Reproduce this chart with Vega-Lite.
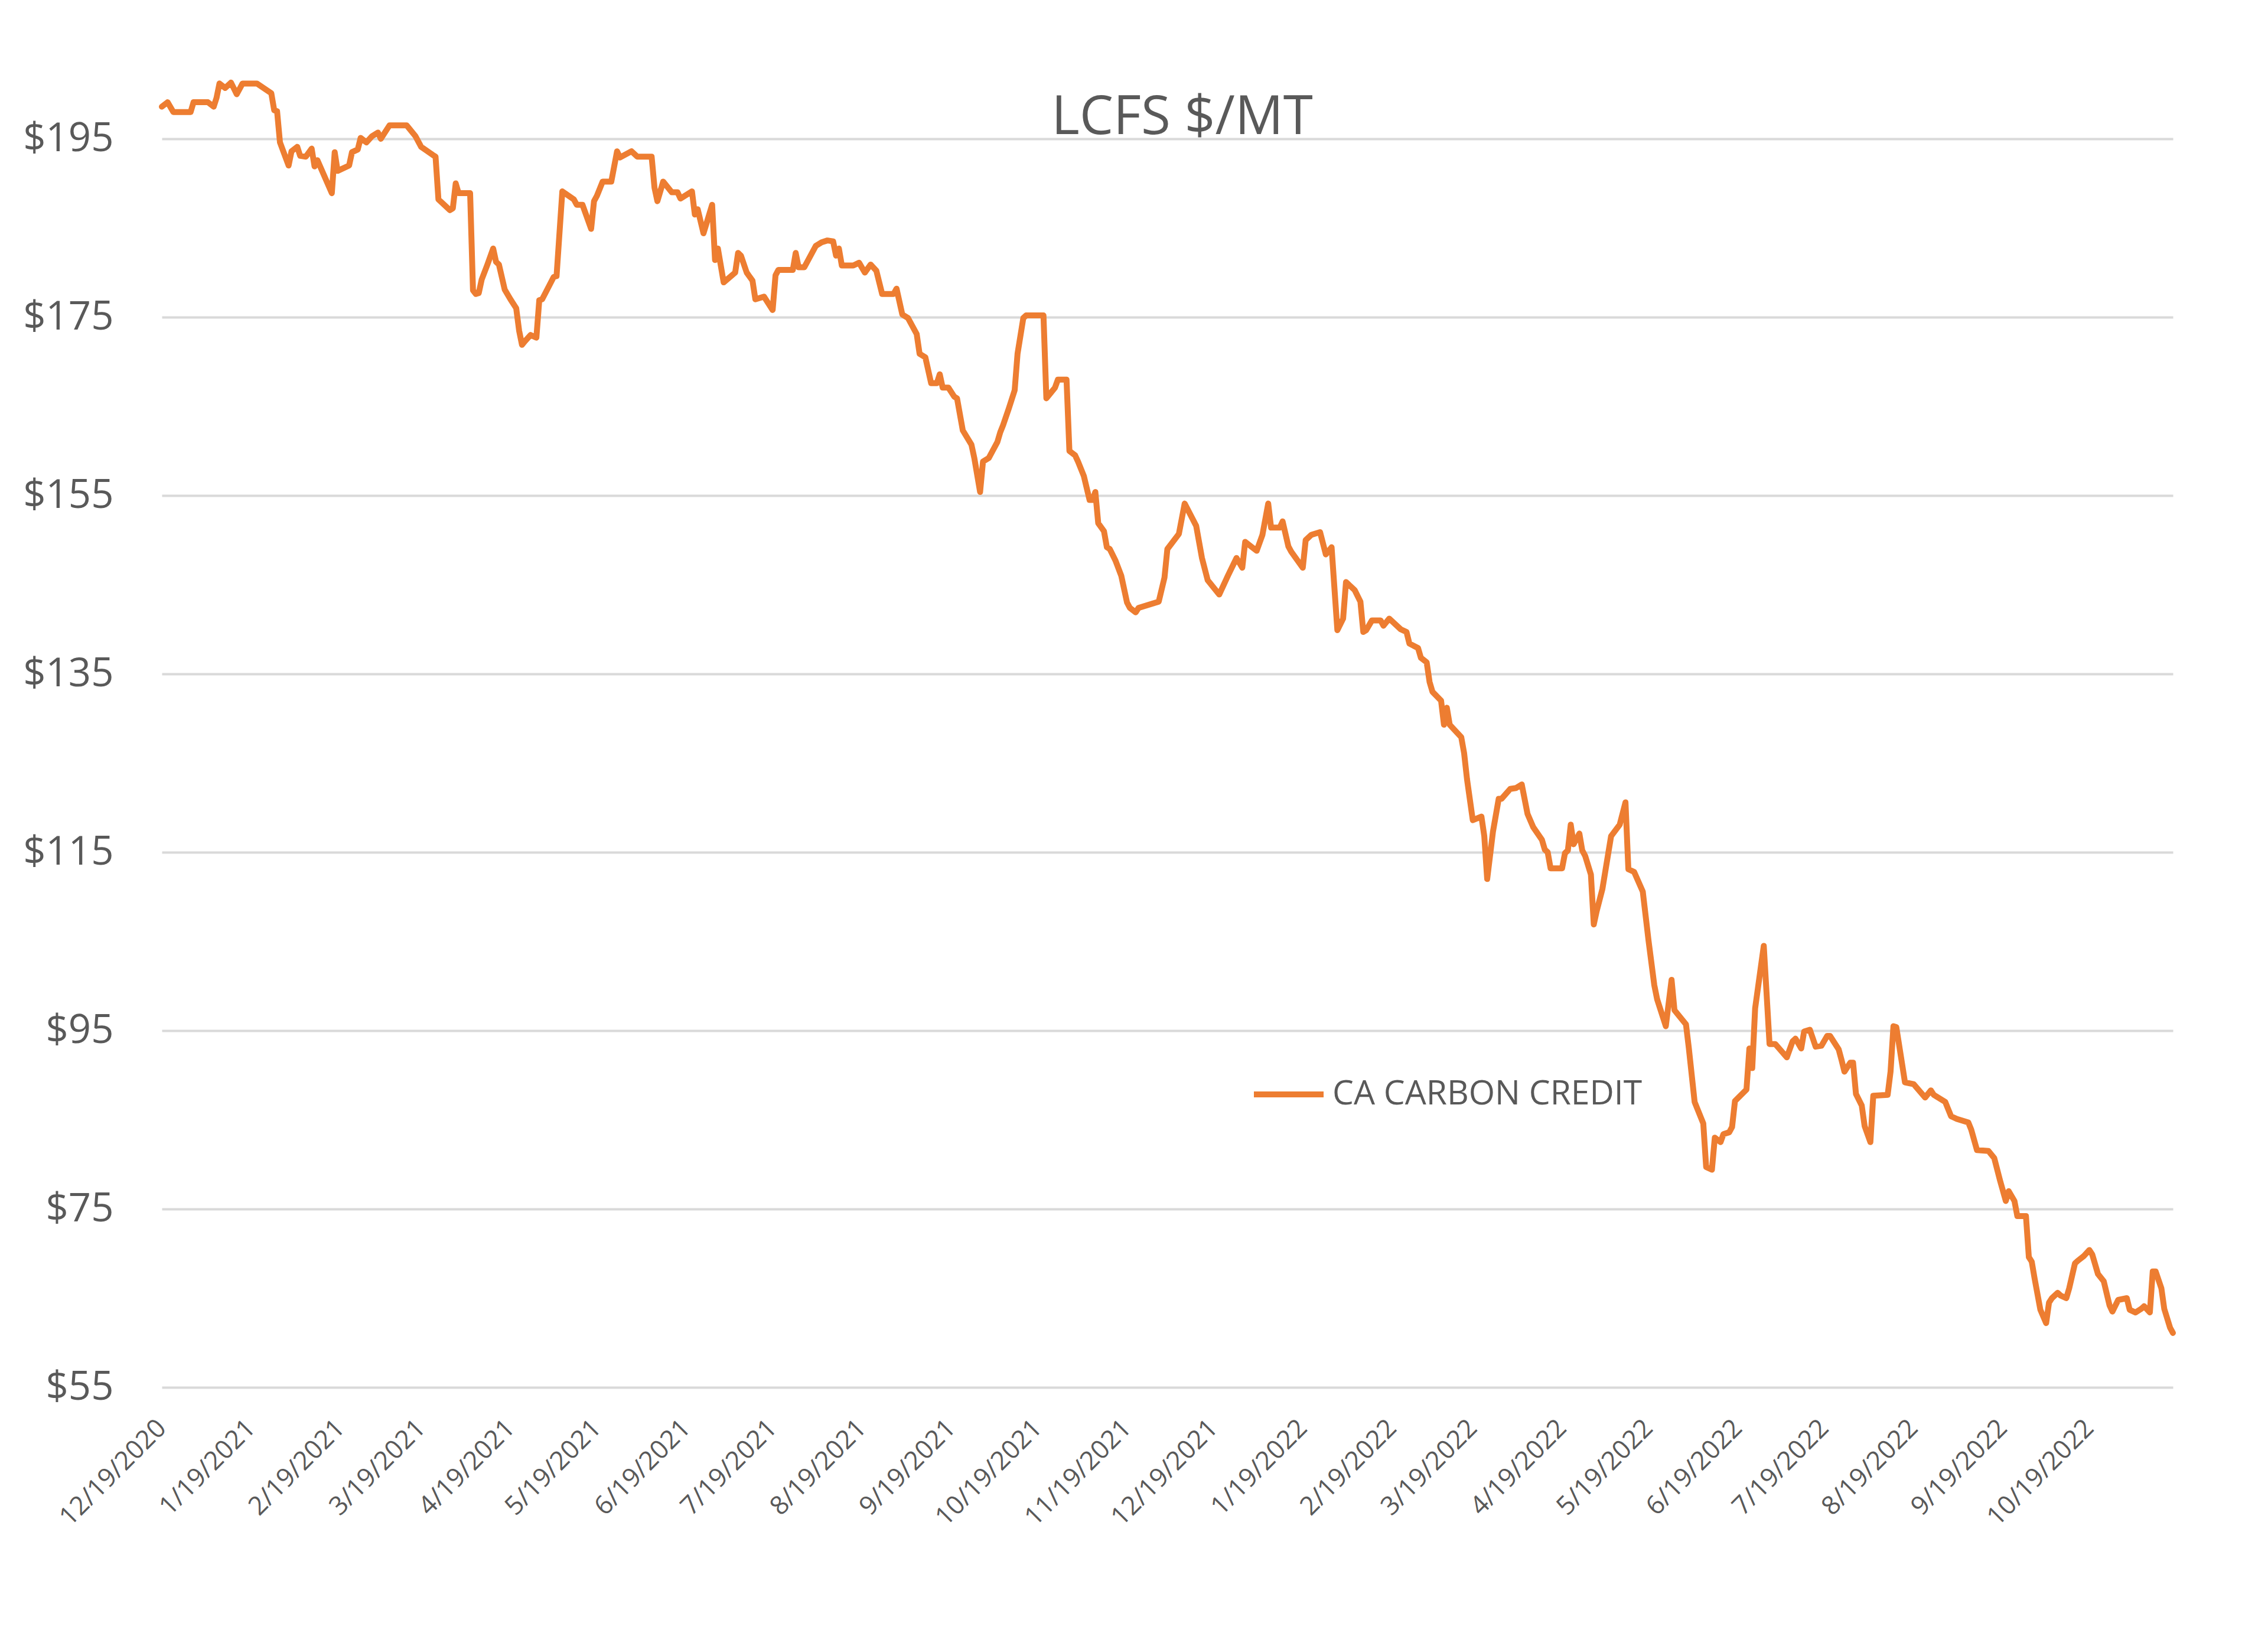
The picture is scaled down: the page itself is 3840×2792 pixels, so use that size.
{
  "$schema": "https://vega.github.io/schema/vega-lite/v6.json",
  "width": 3405,
  "height": 2265,
  "autosize": {"type": "none"},
  "padding": {"left": 274, "top": 84, "right": 161, "bottom": 359},
  "background": "white",
  "title": {"text": "LCFS $/MT", "anchor": "middle", "offset": -234, "baseline": "alphabetic", "dx": 25, "fontSize": 91, "font": "Open Sans", "fontWeight": "normal", "color": "#595959"},
  "data": {"values": [
    {"date":"2020-12-19","price":198.6},{"date":"2020-12-21","price":199.1},{"date":"2020-12-23","price":198.0},{"date":"2020-12-29","price":198.0},{"date":"2020-12-30","price":199.1},
    {"date":"2021-01-04","price":199.1},{"date":"2021-01-06","price":198.6},{"date":"2021-01-07","price":199.6},{"date":"2021-01-08","price":201.2},{"date":"2021-01-10","price":200.7},
    {"date":"2021-01-12","price":201.3},{"date":"2021-01-14","price":200.0},{"date":"2021-01-16","price":201.2},{"date":"2021-01-21","price":201.2},{"date":"2021-01-26","price":200.1},
    {"date":"2021-01-27","price":198.2},{"date":"2021-01-28","price":198.1},{"date":"2021-01-29","price":194.6},{"date":"2021-02-01","price":192.0},{"date":"2021-02-02","price":193.6},
    {"date":"2021-02-04","price":194.1},{"date":"2021-02-05","price":193.1},{"date":"2021-02-07","price":193.0},{"date":"2021-02-09","price":193.9},{"date":"2021-02-10","price":191.9},
    {"date":"2021-02-11","price":192.6},{"date":"2021-02-16","price":188.9},{"date":"2021-02-17","price":193.5},{"date":"2021-02-18","price":191.4},{"date":"2021-02-22","price":192.0},
    {"date":"2021-02-23","price":193.5},{"date":"2021-02-25","price":193.8},{"date":"2021-02-26","price":195.1},{"date":"2021-02-28","price":194.6},{"date":"2021-03-02","price":195.3},
    {"date":"2021-03-04","price":195.7},{"date":"2021-03-05","price":195.0},{"date":"2021-03-08","price":196.5},{"date":"2021-03-14","price":196.5},{"date":"2021-03-17","price":195.3},
    {"date":"2021-03-19","price":194.1},{"date":"2021-03-23","price":193.2},{"date":"2021-03-24","price":193.0},{"date":"2021-03-25","price":188.2},{"date":"2021-03-29","price":187.0},
    {"date":"2021-03-30","price":187.2},{"date":"2021-03-31","price":190.0},{"date":"2021-04-01","price":188.9},{"date":"2021-04-05","price":188.9},{"date":"2021-04-06","price":178.0},
    {"date":"2021-04-07","price":177.6},{"date":"2021-04-08","price":177.7},{"date":"2021-04-09","price":179.2},{"date":"2021-04-11","price":180.9},{"date":"2021-04-13","price":182.7},
    {"date":"2021-04-14","price":181.2},{"date":"2021-04-15","price":180.9},{"date":"2021-04-17","price":178.1},{"date":"2021-04-19","price":177.0},{"date":"2021-04-21","price":176.0},
    {"date":"2021-04-22","price":173.5},{"date":"2021-04-23","price":171.9},{"date":"2021-04-24","price":172.3},{"date":"2021-04-26","price":173.0},{"date":"2021-04-28","price":172.7},
    {"date":"2021-04-29","price":176.9},{"date":"2021-04-30","price":177.0},{"date":"2021-05-04","price":179.5},{"date":"2021-05-05","price":179.6},{"date":"2021-05-07","price":189.1},
    {"date":"2021-05-11","price":188.2},{"date":"2021-05-12","price":187.6},{"date":"2021-05-14","price":187.6},{"date":"2021-05-17","price":184.9},{"date":"2021-05-18","price":188.0},
    {"date":"2021-05-19","price":188.6},{"date":"2021-05-21","price":190.2},{"date":"2021-05-24","price":190.2},{"date":"2021-05-26","price":193.6},{"date":"2021-05-27","price":192.9},
    {"date":"2021-05-31","price":193.6},{"date":"2021-06-02","price":193.0},{"date":"2021-06-07","price":193.0},{"date":"2021-06-08","price":189.5},{"date":"2021-06-09","price":188.0},
    {"date":"2021-06-11","price":190.2},{"date":"2021-06-14","price":189.0},{"date":"2021-06-16","price":189.0},{"date":"2021-06-17","price":188.3},{"date":"2021-06-21","price":189.1},
    {"date":"2021-06-22","price":186.5},{"date":"2021-06-23","price":187.1},{"date":"2021-06-25","price":184.4},{"date":"2021-06-28","price":187.6},{"date":"2021-06-29","price":181.4},
    {"date":"2021-06-30","price":182.7},{"date":"2021-07-02","price":178.9},{"date":"2021-07-06","price":180.0},{"date":"2021-07-07","price":182.2},{"date":"2021-07-08","price":181.9},
    {"date":"2021-07-10","price":180.0},{"date":"2021-07-12","price":179.1},{"date":"2021-07-13","price":177.0},{"date":"2021-07-16","price":177.3},{"date":"2021-07-19","price":175.8},
    {"date":"2021-07-20","price":179.7},{"date":"2021-07-21","price":180.3},{"date":"2021-07-26","price":180.3},{"date":"2021-07-27","price":182.2},{"date":"2021-07-28","price":180.6},
    {"date":"2021-07-30","price":180.6},{"date":"2021-08-03","price":183.0},{"date":"2021-08-05","price":183.4},{"date":"2021-08-07","price":183.6},{"date":"2021-08-09","price":183.5},
    {"date":"2021-08-10","price":181.9},{"date":"2021-08-11","price":182.7},{"date":"2021-08-12","price":180.8},{"date":"2021-08-16","price":180.8},{"date":"2021-08-18","price":181.1},
    {"date":"2021-08-20","price":180.0},{"date":"2021-08-22","price":180.9},{"date":"2021-08-24","price":180.2},{"date":"2021-08-26","price":177.6},{"date":"2021-08-30","price":177.6},
    {"date":"2021-08-31","price":178.2},{"date":"2021-09-02","price":175.3},{"date":"2021-09-04","price":174.9},{"date":"2021-09-07","price":173.1},{"date":"2021-09-08","price":170.9},
    {"date":"2021-09-10","price":170.5},{"date":"2021-09-12","price":167.6},{"date":"2021-09-14","price":167.6},{"date":"2021-09-15","price":168.6},{"date":"2021-09-16","price":167.1},
    {"date":"2021-09-18","price":167.1},{"date":"2021-09-20","price":166.1},{"date":"2021-09-21","price":165.9},{"date":"2021-09-23","price":162.3},{"date":"2021-09-26","price":160.7},
    {"date":"2021-09-27","price":159.2},{"date":"2021-09-29","price":155.4},{"date":"2021-09-30","price":158.8},{"date":"2021-10-02","price":159.2},{"date":"2021-10-05","price":161.0},
    {"date":"2021-10-06","price":162.1},{"date":"2021-10-07","price":162.9},{"date":"2021-10-09","price":164.8},{"date":"2021-10-11","price":166.8},{"date":"2021-10-12","price":170.9},
    {"date":"2021-10-14","price":174.9},{"date":"2021-10-15","price":175.2},{"date":"2021-10-21","price":175.2},{"date":"2021-10-22","price":165.9},{"date":"2021-10-25","price":167.1},
    {"date":"2021-10-26","price":168.0},{"date":"2021-10-29","price":168.0},{"date":"2021-10-30","price":160.0},{"date":"2021-11-01","price":159.5},{"date":"2021-11-02","price":158.8},
    {"date":"2021-11-04","price":157.2},{"date":"2021-11-06","price":154.5},{"date":"2021-11-07","price":154.5},{"date":"2021-11-08","price":155.4},{"date":"2021-11-09","price":151.9},
    {"date":"2021-11-11","price":151.0},{"date":"2021-11-12","price":149.2},{"date":"2021-11-13","price":149.0},{"date":"2021-11-15","price":147.7},{"date":"2021-11-17","price":146.0},
    {"date":"2021-11-19","price":143.0},{"date":"2021-11-20","price":142.4},{"date":"2021-11-22","price":141.9},{"date":"2021-11-23","price":142.4},{"date":"2021-11-30","price":143.1},
    {"date":"2021-12-02","price":145.8},{"date":"2021-12-03","price":149.0},{"date":"2021-12-07","price":150.7},{"date":"2021-12-09","price":154.1},{"date":"2021-12-13","price":151.6},
    {"date":"2021-12-15","price":148.0},{"date":"2021-12-17","price":145.5},{"date":"2021-12-21","price":143.9},{"date":"2021-12-24","price":146.0},{"date":"2021-12-27","price":148.0},
    {"date":"2021-12-29","price":146.9},{"date":"2021-12-30","price":149.8},{"date":"2022-01-03","price":148.8},{"date":"2022-01-05","price":150.6},{"date":"2022-01-07","price":154.1},
    {"date":"2022-01-08","price":151.4},{"date":"2022-01-11","price":151.4},{"date":"2022-01-12","price":152.1},{"date":"2022-01-14","price":149.3},{"date":"2022-01-15","price":148.7},
    {"date":"2022-01-19","price":146.9},{"date":"2022-01-20","price":150.0},{"date":"2022-01-22","price":150.6},{"date":"2022-01-25","price":150.9},{"date":"2022-01-27","price":148.4},
    {"date":"2022-01-29","price":149.2},{"date":"2022-01-31","price":139.9},{"date":"2022-02-02","price":141.2},{"date":"2022-02-03","price":145.3},{"date":"2022-02-06","price":144.4},
    {"date":"2022-02-08","price":143.1},{"date":"2022-02-09","price":139.7},{"date":"2022-02-10","price":139.9},{"date":"2022-02-12","price":141.0},{"date":"2022-02-15","price":141.0},
    {"date":"2022-02-16","price":140.4},{"date":"2022-02-18","price":141.2},{"date":"2022-02-22","price":140.0},{"date":"2022-02-24","price":139.7},{"date":"2022-02-25","price":138.4},
    {"date":"2022-02-28","price":137.9},{"date":"2022-03-01","price":136.8},{"date":"2022-03-03","price":136.3},{"date":"2022-03-04","price":134.1},{"date":"2022-03-05","price":133.0},
    {"date":"2022-03-08","price":132.0},{"date":"2022-03-09","price":129.3},{"date":"2022-03-10","price":131.2},{"date":"2022-03-11","price":129.3},{"date":"2022-03-15","price":127.9},
    {"date":"2022-03-16","price":126.1},{"date":"2022-03-17","price":123.2},{"date":"2022-03-19","price":118.6},{"date":"2022-03-22","price":119.0},{"date":"2022-03-23","price":116.8},
    {"date":"2022-03-24","price":112.0},{"date":"2022-03-26","price":117.3},{"date":"2022-03-28","price":121.0},{"date":"2022-03-29","price":121.0},{"date":"2022-04-01","price":122.1},
    {"date":"2022-04-03","price":122.2},{"date":"2022-04-05","price":122.6},{"date":"2022-04-07","price":119.3},{"date":"2022-04-09","price":117.8},{"date":"2022-04-12","price":116.4},
    {"date":"2022-04-13","price":115.3},{"date":"2022-04-14","price":115.0},{"date":"2022-04-15","price":113.2},{"date":"2022-04-19","price":113.2},{"date":"2022-04-20","price":114.9},
    {"date":"2022-04-21","price":115.2},{"date":"2022-04-22","price":118.1},{"date":"2022-04-23","price":115.9},{"date":"2022-04-25","price":117.1},{"date":"2022-04-26","price":115.2},
    {"date":"2022-04-27","price":114.6},{"date":"2022-04-29","price":112.5},{"date":"2022-04-30","price":106.9},{"date":"2022-05-01","price":108.4},{"date":"2022-05-03","price":110.9},
    {"date":"2022-05-06","price":116.8},{"date":"2022-05-09","price":118.1},{"date":"2022-05-11","price":120.6},{"date":"2022-05-12","price":113.1},{"date":"2022-05-14","price":112.8},
    {"date":"2022-05-17","price":110.6},{"date":"2022-05-19","price":105.1},{"date":"2022-05-21","price":100.1},{"date":"2022-05-22","price":98.5},{"date":"2022-05-25","price":95.5},
    {"date":"2022-05-27","price":100.7},{"date":"2022-05-28","price":97.3},{"date":"2022-06-01","price":95.7},{"date":"2022-06-02","price":93.0},{"date":"2022-06-04","price":87.0},
    {"date":"2022-06-07","price":84.6},{"date":"2022-06-08","price":79.7},{"date":"2022-06-10","price":79.4},{"date":"2022-06-11","price":83.0},{"date":"2022-06-13","price":82.5},
    {"date":"2022-06-14","price":83.4},{"date":"2022-06-16","price":83.6},{"date":"2022-06-17","price":84.2},{"date":"2022-06-18","price":87.1},{"date":"2022-06-22","price":88.4},
    {"date":"2022-06-23","price":93.0},{"date":"2022-06-24","price":90.8},{"date":"2022-06-25","price":97.5},{"date":"2022-06-28","price":104.5},{"date":"2022-06-30","price":93.5},
    {"date":"2022-07-02","price":93.5},{"date":"2022-07-06","price":92.0},{"date":"2022-07-08","price":93.8},{"date":"2022-07-09","price":94.1},{"date":"2022-07-11","price":93.0},
    {"date":"2022-07-12","price":94.9},{"date":"2022-07-14","price":95.1},{"date":"2022-07-16","price":93.2},{"date":"2022-07-18","price":93.3},{"date":"2022-07-20","price":94.4},
    {"date":"2022-07-21","price":94.4},{"date":"2022-07-24","price":92.9},{"date":"2022-07-25","price":91.7},{"date":"2022-07-26","price":90.4},{"date":"2022-07-28","price":91.4},
    {"date":"2022-07-29","price":91.4},{"date":"2022-07-30","price":87.9},{"date":"2022-08-01","price":86.6},{"date":"2022-08-02","price":84.3},{"date":"2022-08-04","price":82.5},
    {"date":"2022-08-05","price":87.7},{"date":"2022-08-10","price":87.8},{"date":"2022-08-11","price":90.4},{"date":"2022-08-12","price":95.5},{"date":"2022-08-13","price":95.4},
    {"date":"2022-08-16","price":89.2},{"date":"2022-08-19","price":89.0},{"date":"2022-08-23","price":87.5},{"date":"2022-08-25","price":88.3},{"date":"2022-08-26","price":87.8},
    {"date":"2022-08-30","price":87.0},{"date":"2022-09-01","price":85.4},{"date":"2022-09-03","price":85.1},{"date":"2022-09-07","price":84.7},{"date":"2022-09-08","price":83.9},
    {"date":"2022-09-10","price":81.6},{"date":"2022-09-14","price":81.5},{"date":"2022-09-16","price":80.7},{"date":"2022-09-18","price":78.2},{"date":"2022-09-20","price":75.9},
    {"date":"2022-09-21","price":77.0},{"date":"2022-09-23","price":75.9},{"date":"2022-09-24","price":74.2},{"date":"2022-09-27","price":74.2},{"date":"2022-09-28","price":69.6},
    {"date":"2022-09-29","price":69.1},{"date":"2022-09-30","price":67.2},{"date":"2022-10-02","price":63.7},{"date":"2022-10-04","price":62.2},{"date":"2022-10-05","price":64.5},
    {"date":"2022-10-06","price":65.0},{"date":"2022-10-08","price":65.6},{"date":"2022-10-09","price":65.3},{"date":"2022-10-11","price":65.0},{"date":"2022-10-12","price":66.1},
    {"date":"2022-10-14","price":68.9},{"date":"2022-10-15","price":69.2},{"date":"2022-10-17","price":69.7},{"date":"2022-10-19","price":70.4},{"date":"2022-10-20","price":69.9},
    {"date":"2022-10-22","price":67.7},{"date":"2022-10-24","price":66.9},{"date":"2022-10-26","price":64.2},{"date":"2022-10-27","price":63.5},{"date":"2022-10-29","price":64.8},
    {"date":"2022-11-01","price":65.0},{"date":"2022-11-02","price":63.7},{"date":"2022-11-04","price":63.4},{"date":"2022-11-06","price":63.8},{"date":"2022-11-07","price":64.1},
    {"date":"2022-11-09","price":63.4},{"date":"2022-11-10","price":68.0},{"date":"2022-11-11","price":68.0},{"date":"2022-11-13","price":66.1},{"date":"2022-11-14","price":63.8},
    {"date":"2022-11-16","price":61.7},{"date":"2022-11-17","price":61.1}
  ]},
  "mark": {"type": "line", "strokeWidth": 10, "strokeJoin": "round", "strokeCap": "round", "clip": false},
  "encoding": {
    "x": {
      "field": "date", "type": "temporal",
      "scale": {"type": "utc", "domain": [{"year": 2020, "month": 12, "date": 19, "utc": true}, {"year": 2022, "month": 11, "date": 17, "utc": true}]},
      "axis": {
        "title": null, "grid": false, "domain": false, "ticks": false,
        "values": [
          {"year": 2020, "month": 12, "date": 19, "utc": true},
          {"year": 2021, "month": 1, "date": 19, "utc": true},
          {"year": 2021, "month": 2, "date": 19, "utc": true},
          {"year": 2021, "month": 3, "date": 19, "utc": true},
          {"year": 2021, "month": 4, "date": 19, "utc": true},
          {"year": 2021, "month": 5, "date": 19, "utc": true},
          {"year": 2021, "month": 6, "date": 19, "utc": true},
          {"year": 2021, "month": 7, "date": 19, "utc": true},
          {"year": 2021, "month": 8, "date": 19, "utc": true},
          {"year": 2021, "month": 9, "date": 19, "utc": true},
          {"year": 2021, "month": 10, "date": 19, "utc": true},
          {"year": 2021, "month": 11, "date": 19, "utc": true},
          {"year": 2021, "month": 12, "date": 19, "utc": true},
          {"year": 2022, "month": 1, "date": 19, "utc": true},
          {"year": 2022, "month": 2, "date": 19, "utc": true},
          {"year": 2022, "month": 3, "date": 19, "utc": true},
          {"year": 2022, "month": 4, "date": 19, "utc": true},
          {"year": 2022, "month": 5, "date": 19, "utc": true},
          {"year": 2022, "month": 6, "date": 19, "utc": true},
          {"year": 2022, "month": 7, "date": 19, "utc": true},
          {"year": 2022, "month": 8, "date": 19, "utc": true},
          {"year": 2022, "month": 9, "date": 19, "utc": true},
          {"year": 2022, "month": 10, "date": 19, "utc": true}
        ],
        "format": "%-m/%-d/%Y",
        "labelAngle": -45, "labelAlign": "right", "labelBaseline": "middle",
        "labelFont": "Open Sans", "labelFontSize": 44, "labelColor": "#595959",
        "labelPadding": 62, "labelOverlap": false, "labelFlush": false, "labelBound": false,
        "labelLimit": 2000
      }
    },
    "y": {
      "field": "price", "type": "quantitative",
      "scale": {"domain": [55, 205], "nice": false, "zero": false},
      "axis": {
        "title": null, "domain": false, "ticks": false,
        "values": [55, 75, 95, 115, 135, 155, 175, 195],
        "format": "$d",
        "grid": true, "gridColor": "#d9d9d9", "gridWidth": 4,
        "labelFont": "Open Sans", "labelFontSize": 67, "labelColor": "#595959",
        "labelPadding": 82, "labelBaseline": "middle"
      }
    },
    "color": {
      "datum": "CA CARBON CREDIT",
      "type": "nominal",
      "scale": {"range": ["#ED7D31"]},
      "legend": {
        "orient": "none", "legendX": 1844, "legendY": 1705, "title": null,
        "symbolType": "stroke", "symbolSize": 13924, "symbolStrokeWidth": 10,
        "labelFont": "Open Sans", "labelFontSize": 57, "labelColor": "#595959",
        "labelOffset": 10, "labelLimit": 0, "padding": 0
      }
    }
  },
  "config": {"view": {"stroke": null}}
}
